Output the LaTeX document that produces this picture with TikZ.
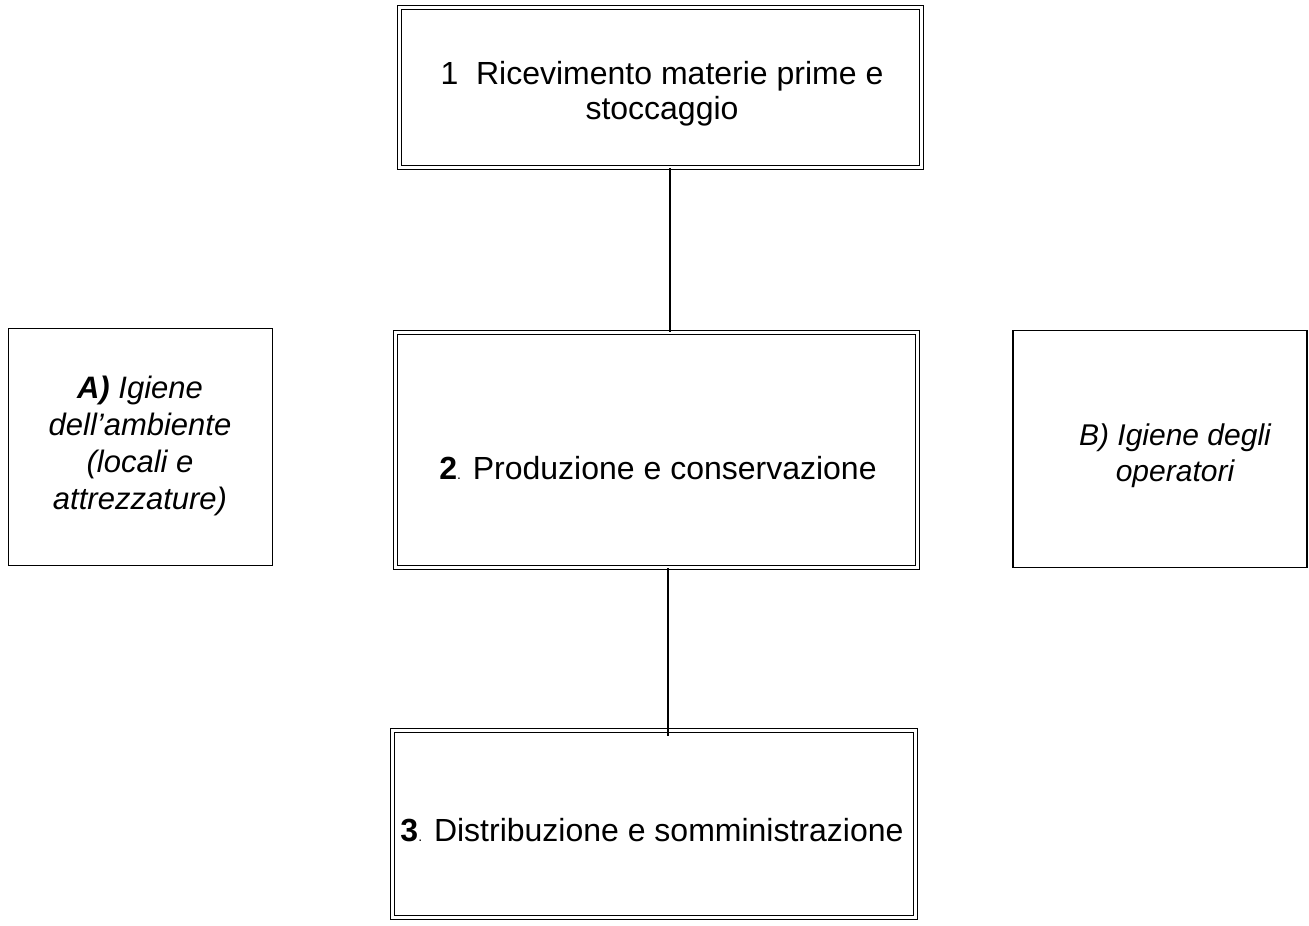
\documentclass[tikz,border=0pt]{standalone}
\usepackage{fontspec}
\setmainfont{Liberation Sans}
\begin{document}
\begin{tikzpicture}[x=1pt,y=-1pt,
  dbox/.style={draw, double, double distance=3pt, line width=1pt, inner sep=0pt},
  sbox/.style={draw, line width=1.2pt, inner sep=0pt},
  lbl/.style={font=\fontsize{32}{35}\selectfont, align=center, inner sep=0pt},
  ilbl/.style={font=\fontsize{31}{37}\selectfont\itshape, align=center, inner sep=0pt},
  conn/.style={line width=1.2pt}]
\useasboundingbox (0,0) rectangle (1309,926);
% boxes
\node[dbox, minimum width=522pt, minimum height=160pt] (b1) at (660.5,87.5) {};
\node[dbox, minimum width=522pt, minimum height=235pt] (b2) at (656.5,450) {};
\node[dbox, minimum width=523pt, minimum height=187pt] (b3) at (654,824) {};
\node[sbox, minimum width=264pt, minimum height=237pt] (ba) at (140.5,447) {};
\node[sbox, minimum width=294pt, minimum height=237pt] (bb) at (1160,449) {};
% texts
\node[lbl] (t1) at (662,94) {1\ \ Ricevimento materie prime e\\stoccaggio};
\node[lbl] (t2) at (658,468) {\textbf{2}{\fontsize{14}{14}\selectfont.} Produzione e conservazione};
\node[lbl] (t3) at (652,830) {\textbf{3}{\fontsize{14}{14}\selectfont.} Distribuzione e somministrazione};
\node[ilbl] (ta) at (140,446) {\textbf{A)} Igiene\\dell’ambiente\\(locali e\\attrezzature)};
\node[ilbl, font=\fontsize{30}{36}\selectfont\itshape] (tb) at (1175,456) {B) Igiene degli\\operatori};
% connectors
\coordinate (l1) at (670,0);
\coordinate (l2) at (668,0);
\draw[conn] (b1.south -| l1) -- (b2.north -| l1);
\draw[conn] (b2.south -| l2) -- ([yshift=-6pt]b3.north -| l2);
\end{tikzpicture}
\end{document}
